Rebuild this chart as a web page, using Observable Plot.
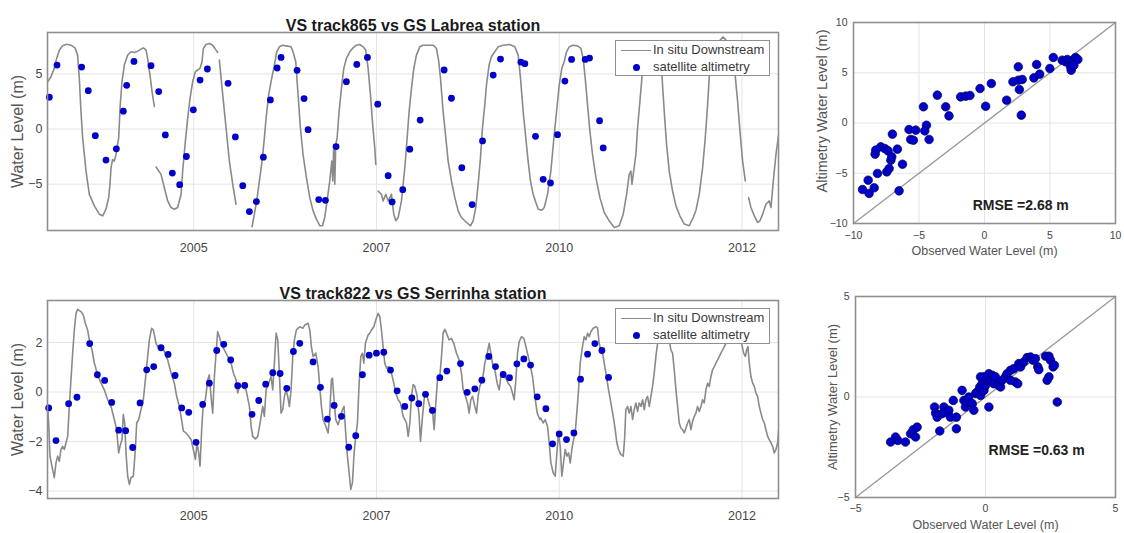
<!DOCTYPE html>
<html>
<head>
<meta charset="utf-8">
<script src="https://cdn.jsdelivr.net/npm/d3@7"></script>
<script src="https://cdn.jsdelivr.net/npm/@observablehq/plot@0.6"></script>
<style>
  html, body { margin: 0; padding: 0; background: #fff; }
  #wrap { position: relative; width: 1124px; height: 533px; overflow: hidden; background: #fff;
          font-family: "Liberation Sans", Arial, sans-serif; }
  .panel { position: absolute; }
  .legend { position: absolute; width: 155px; height: 36px; background: #fff; border: 1px solid #8f8f8f;
            box-sizing: border-box; font-size: 13px; color: #3a3a3a; }
  .legend .ln { position: absolute; left: 5px; top: 9px; width: 30px; height: 0; border-top: 1.5px solid #8c8c8c; }
  .legend .dt { position: absolute; left: 16.5px; top: 22.5px; width: 7px; height: 7px; border-radius: 50%; background: #0000c8; }
  .legend .t1, .legend .t2 { position: absolute; left: 37px; line-height: 15px; white-space: nowrap; }
  .legend .t1 { top: 1px; }
  .legend .t2 { top: 18px; }
</style>
</head>
<body>
<div id="wrap"></div>
<script>
// ---------------- data ----------------
const tsTickYears = [2005, 2007.5, 2010, 2012.5];
const tsTickLabels = ["2005", "2007", "2010", "2012"];
const labreaYTicks = [-5, 0, 5];
const serrinhaYTicks = [-4, -2, 0, 2];
const scatterTopTicks = [-10, -5, 0, 5, 10];
const scatterBottomTicks = [-5, 0, 5];

const titles = ["VS track865 vs GS Labrea station", "VS track822 vs GS Serrinha station"];
const legendLabels = ["In situ Downstream", "satellite altimetry"];
const rmseLabels = ["RMSE =2.68 m", "RMSE =0.63 m"];

// in situ water level [decimal year, m]; null = data gap
const labreaInSitu = [
[2003.002,4.29],[2003.047,4.74],[2003.093,5.50],[2003.125,6.40],[2003.162,7.15],[2003.207,7.54],[2003.262,7.69],[2003.321,7.60],[2003.376,7.36],[2003.412,6.70],[2003.435,4.59],[2003.458,1.59],[2003.481,-0.81],[2003.527,-3.81],[2003.572,-5.92],[2003.641,-6.97],[2003.709,-7.72],[2003.755,-7.87],[2003.800,-7.27],[2003.837,-6.22],[2003.855,-5.01],[2003.869,-3.51],[2003.891,-2.76],[2003.914,-2.91],[2003.937,-2.31],[2003.974,-0.81],[2003.992,1.89],[2004.019,4.29],[2004.051,5.80],[2004.097,6.70],[2004.142,7.00],[2004.188,6.94],[2004.234,7.06],[2004.279,7.24],[2004.311,7.36],[2004.348,7.15],[2004.370,6.40],[2004.402,4.89],[2004.430,3.39],[2004.462,2.04],
null,
[2004.485,-3.45],[2004.553,-4.11],[2004.599,-5.32],[2004.644,-6.52],[2004.690,-7.12],[2004.735,-7.27],[2004.781,-7.12],[2004.827,-5.92],[2004.849,-3.81],[2004.886,-1.11],[2004.918,0.99],[2004.950,2.79],[2004.986,4.29],[2005.023,5.20],[2005.055,5.35],[2005.087,5.50],[2005.114,6.10],[2005.132,7.30],[2005.169,7.66],[2005.214,7.75],[2005.260,7.60],[2005.306,7.15],[2005.328,6.94],
null,
[2005.351,6.25],[2005.397,3.09],[2005.443,0.09],[2005.488,-2.91],[2005.534,-5.01],[2005.579,-6.82],
null,
[2005.798,-8.86],[2005.830,-7.72],[2005.862,-6.52],[2005.899,-4.71],[2005.935,-2.91],[2005.967,-0.81],[2005.990,0.99],[2006.026,3.09],[2006.058,4.29],[2006.104,5.80],[2006.136,7.00],[2006.172,7.45],[2006.218,7.60],[2006.264,7.54],[2006.332,7.45],[2006.359,7.00],[2006.396,6.10],[2006.428,3.09],[2006.460,0.09],[2006.496,-2.31],[2006.542,-4.41],[2006.588,-6.22],[2006.633,-7.42],[2006.679,-8.17],[2006.725,-8.77],[2006.761,-8.77],[2006.793,-8.02],[2006.825,-6.52],[2006.861,-4.71],[2006.889,-2.91],[2006.902,-4.71],[2006.916,-1.41],[2006.930,-5.01],[2006.943,-1.41],[2006.962,-0.81],[2006.989,1.59],[2007.021,3.69],[2007.053,5.50],[2007.089,6.40],[2007.135,7.00],[2007.181,7.36],[2007.226,7.60],[2007.272,7.66],[2007.318,7.45],[2007.354,7.15],[2007.386,5.50],[2007.418,3.09],[2007.445,0.69],[2007.477,-1.71],[2007.491,-3.21],
null,
[2007.523,-5.62],[2007.568,-5.92],[2007.591,-6.52],[2007.628,-5.92],[2007.660,-6.52],[2007.705,-5.92],[2007.737,-7.72],[2007.765,-8.32],[2007.797,-8.02],[2007.842,-6.52],[2007.888,-3.51],[2007.920,-0.81],[2007.947,1.59],[2007.979,3.69],[2008.011,5.50],[2008.047,6.70],[2008.093,7.45],[2008.139,7.60],[2008.207,7.60],[2008.276,7.60],[2008.321,7.30],[2008.353,6.10],[2008.376,4.59],[2008.412,1.59],[2008.449,-0.81],[2008.481,-2.91],[2008.526,-4.71],[2008.572,-6.22],[2008.618,-7.42],[2008.663,-8.02],[2008.732,-8.47],[2008.786,-8.77],[2008.823,-8.32],[2008.859,-7.12],[2008.891,-5.01],[2008.923,-2.61],[2008.950,0.09],[2008.982,2.19],[2009.005,3.99],[2009.041,5.80],[2009.073,6.55],[2009.118,7.00],[2009.164,7.45],[2009.233,7.60],[2009.324,7.66],[2009.393,7.45],[2009.439,6.70],[2009.471,4.59],[2009.507,1.59],[2009.543,-0.81],[2009.575,-2.91],[2009.607,-4.71],[2009.644,-5.92],[2009.681,-6.67],[2009.713,-7.27],[2009.763,-7.36],[2009.795,-7.12],[2009.840,-5.92],[2009.886,-3.81],[2009.932,-0.51],[2009.964,1.59],[2010.000,3.99],[2010.036,5.50],[2010.068,6.10],[2010.100,7.00],[2010.137,7.45],[2010.182,7.60],[2010.251,7.54],[2010.297,7.30],[2010.328,6.40],[2010.356,4.59],[2010.388,2.19],[2010.420,-0.21],[2010.456,-2.31],[2010.502,-4.41],[2010.557,-6.22],[2010.616,-7.57],[2010.684,-8.32],[2010.753,-8.92],[2010.821,-8.77],[2010.876,-7.72],[2010.922,-5.92],[2010.958,-4.11],[2010.981,-3.81],[2010.995,-5.01],[2011.013,-4.11],[2011.049,-2.31],[2011.072,0.09],[2011.104,2.49],[2011.131,4.59],[2011.150,6.40],[2011.195,7.45],[2011.277,7.66],[2011.359,7.30],[2011.405,4.89],[2011.437,1.59],[2011.469,-1.41],[2011.505,-3.81],[2011.551,-5.62],[2011.597,-6.97],[2011.651,-7.87],[2011.711,-8.62],[2011.779,-8.77],[2011.834,-8.02],[2011.871,-7.36],[2011.916,-5.92],[2011.962,-3.51],[2011.998,-0.81],[2012.030,2.19],[2012.053,4.74],[2012.098,6.70],[2012.181,7.90],[2012.240,8.35],[2012.304,7.90],[2012.372,6.40],[2012.409,4.74],[2012.441,2.49],[2012.473,-0.21],[2012.509,-2.91],[2012.546,-4.71],
null,
[2012.591,-6.22],[2012.623,-7.12],[2012.669,-7.87],[2012.714,-8.47],[2012.746,-8.32],[2012.783,-7.72],[2012.828,-6.82],[2012.874,-6.52],[2012.897,-7.12],[2012.929,-4.71],[2012.965,-2.31],[2013.002,-0.51]
];

const labreaAltimetry = [
[2003.025,2.88],[2003.130,5.80],[2003.467,5.62],[2003.558,3.48],[2003.654,-0.60],[2003.800,-2.82],[2003.942,-1.80],[2004.037,1.62],[2004.083,3.96],[2004.183,6.13],[2004.416,5.74],[2004.521,3.39],[2004.612,-0.54],[2004.708,-3.99],[2004.808,-5.05],[2004.900,-2.49],[2004.995,1.74],[2005.087,4.44],[2005.187,5.44],[2005.470,4.14],[2005.570,-0.72],[2005.671,-5.14],[2005.762,-7.48],[2005.858,-6.58],[2005.953,-2.55],[2006.049,2.64],[2006.141,5.53],[2006.195,6.49],[2006.414,5.32],[2006.510,2.76],[2006.565,-0.06],[2006.711,-6.40],[2006.802,-6.46],[2006.948,-1.59],[2007.089,4.29],[2007.231,5.86],[2007.377,6.49],[2007.518,2.25],[2007.660,-4.23],[2007.714,-6.61],[2007.860,-5.50],[2007.956,-1.83],[2008.098,0.81],[2008.426,5.35],[2008.526,2.79],[2008.668,-3.51],[2008.809,-6.85],[2008.951,-1.08],[2009.097,4.89],[2009.197,6.34],[2009.475,6.07],[2009.530,5.92],[2009.676,-0.66],[2009.781,-4.56],[2009.881,-4.89],[2009.977,-0.51],[2010.078,4.35],[2010.169,6.31],[2010.356,6.31],[2010.415,6.43],[2010.552,0.75],[2010.602,-1.71]
];

const serrinhaInSitu = [
[2003.002,-0.58],[2003.016,-1.25],[2003.034,-2.59],[2003.061,-2.99],[2003.093,-3.46],[2003.116,-2.86],[2003.139,-2.59],[2003.162,-2.79],[2003.184,-2.32],[2003.207,-2.19],[2003.230,-2.32],[2003.253,-2.05],[2003.276,-1.79],[2003.298,-0.58],[2003.321,0.50],[2003.344,1.57],[2003.367,2.51],[2003.390,3.18],[2003.412,3.34],[2003.458,3.25],[2003.490,3.11],[2003.517,2.78],[2003.549,2.51],[2003.572,2.11],[2003.609,1.70],[2003.641,1.17],[2003.686,0.70],[2003.732,0.36],[2003.777,0.09],[2003.823,-0.31],[2003.869,-0.58],[2003.914,-1.11],[2003.946,-1.52],[2003.974,-2.46],[2003.992,-2.19],[2004.019,-1.92],[2004.037,-0.91],[2004.056,-1.25],[2004.074,-2.46],[2004.097,-3.40],[2004.120,-3.73],[2004.142,-3.46],[2004.174,-3.40],[2004.202,-2.32],[2004.220,-1.25],[2004.247,-1.11],[2004.279,-0.71],[2004.311,-0.31],[2004.339,0.50],[2004.361,1.17],[2004.393,2.11],[2004.425,2.58],[2004.448,2.51],[2004.485,1.97],[2004.521,1.77],[2004.553,1.84],[2004.599,1.64],[2004.644,1.30],[2004.690,0.77],[2004.735,0.36],[2004.767,-0.17],[2004.804,-0.58],[2004.827,-0.98],[2004.859,-1.58],[2004.895,-1.65],[2004.932,-1.79],[2004.964,-1.92],[2004.995,-2.32],[2005.023,-2.72],[2005.046,-2.05],[2005.068,-2.46],[2005.087,-2.99],[2005.109,-1.52],[2005.132,-0.44],[2005.160,-0.31],[2005.192,0.50],[2005.214,0.70],[2005.237,-0.17],[2005.260,-0.85],[2005.283,0.63],[2005.306,1.57],[2005.328,2.44],[2005.351,2.24],[2005.374,1.97],[2005.420,1.70],[2005.465,1.44],[2005.511,1.17],[2005.543,0.77],[2005.579,0.50],[2005.602,-0.04],[2005.625,0.23],[2005.671,0.23],[2005.716,0.09],[2005.762,-0.58],[2005.785,-1.38],[2005.807,-1.79],[2005.844,-1.89],[2005.876,-1.79],[2005.908,-1.25],[2005.944,-0.58],[2005.967,-0.98],[2005.990,0.09],[2006.026,0.36],[2006.058,0.63],[2006.081,0.09],[2006.104,1.17],[2006.127,2.38],[2006.150,2.11],[2006.172,0.77],[2006.195,-0.85],[2006.218,-0.71],[2006.241,-0.17],[2006.264,0.09],[2006.286,-0.17],[2006.309,-0.58],[2006.332,0.09],[2006.355,1.44],[2006.378,2.11],[2006.405,2.51],[2006.451,2.64],[2006.496,2.58],[2006.519,2.71],[2006.565,2.78],[2006.588,2.51],[2006.610,1.84],[2006.633,1.44],[2006.670,1.57],[2006.702,1.03],[2006.724,0.23],[2006.747,-0.58],[2006.770,-1.11],[2006.807,-1.38],[2006.839,-1.65],[2006.861,-0.85],[2006.884,0.50],[2006.898,0.56],[2006.916,-0.17],[2006.943,-1.11],[2006.975,-1.32],[2006.998,-1.11],[2007.035,-0.71],[2007.057,-0.58],[2007.076,-1.52],[2007.099,-2.46],[2007.126,-3.26],[2007.149,-3.93],[2007.172,-3.66],[2007.194,-2.46],[2007.217,-1.79],[2007.240,-1.25],[2007.263,0.36],[2007.286,1.44],[2007.308,1.57],[2007.327,1.17],[2007.349,1.97],[2007.386,2.31],[2007.409,2.38],[2007.432,2.51],[2007.464,2.64],[2007.491,2.91],[2007.523,3.18],[2007.546,3.05],[2007.568,2.51],[2007.591,1.84],[2007.614,1.17],[2007.637,0.97],[2007.673,1.03],[2007.705,0.77],[2007.737,0.36],[2007.765,-0.04],[2007.797,-0.31],[2007.828,-0.44],[2007.865,-0.98],[2007.888,-1.11],[2007.911,-1.25],[2007.934,-1.79],[2007.957,-1.25],[2007.979,-0.17],[2008.002,0.30],[2008.025,0.23],[2008.057,-0.17],[2008.084,-0.98],[2008.102,-1.99],[2008.130,-0.98],[2008.161,-0.04],[2008.193,-0.17],[2008.230,-0.58],[2008.266,-0.71],[2008.289,-1.52],[2008.312,-0.44],[2008.335,0.50],[2008.367,0.63],[2008.390,1.44],[2008.412,2.38],[2008.435,2.54],[2008.458,2.38],[2008.494,2.11],[2008.526,2.17],[2008.558,1.97],[2008.595,1.57],[2008.631,1.30],[2008.663,0.77],[2008.686,0.09],[2008.718,-0.17],[2008.745,-0.44],[2008.768,-0.85],[2008.791,-0.31],[2008.814,-0.17],[2008.846,-0.58],[2008.869,-0.85],[2008.891,-0.17],[2008.914,0.23],[2008.951,0.50],[2008.983,1.17],[2009.015,1.57],[2009.042,1.97],[2009.065,1.57],[2009.087,1.17],[2009.120,0.90],[2009.151,0.36],[2009.179,0.09],[2009.202,0.63],[2009.233,0.63],[2009.270,0.56],[2009.302,0.36],[2009.334,0.23],[2009.361,-0.04],[2009.384,-0.31],[2009.407,0.50],[2009.430,1.57],[2009.453,2.04],[2009.485,2.24],[2009.516,2.17],[2009.544,1.84],[2009.576,1.44],[2009.598,1.17],[2009.635,0.63],[2009.667,-0.17],[2009.699,-0.85],[2009.735,-1.11],[2009.749,-1.05],[2009.781,-1.25],[2009.808,-1.11],[2009.840,-1.38],[2009.863,-2.05],[2009.886,-2.86],[2009.918,-3.26],[2009.945,-3.40],[2009.968,-2.46],[2009.991,-1.65],[2010.014,-2.19],[2010.036,-3.40],[2010.059,-2.86],[2010.082,-2.32],[2010.105,-2.59],[2010.128,-2.46],[2010.151,-2.86],[2010.173,-2.32],[2010.196,-1.92],[2010.219,-1.65],[2010.237,-0.98],[2010.265,0.09],[2010.287,1.17],[2010.319,1.84],[2010.342,2.24],[2010.365,2.11],[2010.388,2.38],[2010.411,2.24],[2010.433,2.44],[2010.465,2.58],[2010.502,2.64],[2010.525,2.58],[2010.547,1.97],[2010.570,1.70],[2010.593,1.57],[2010.616,1.17],[2010.639,0.77],[2010.675,0.09],[2010.707,-0.44],[2010.739,-0.98],[2010.766,-1.52],[2010.789,-2.05],[2010.812,-2.32],[2010.844,-2.52],[2010.876,-2.59],[2010.894,-1.92],[2010.912,-0.71],[2010.935,-0.58],[2010.958,-0.85],[2010.981,-0.58],[2011.004,-1.11],[2011.026,-0.71],[2011.049,-0.44],[2011.072,-0.78],[2011.095,-0.44],[2011.118,-0.58],[2011.141,-0.31],[2011.163,-0.71],[2011.186,-0.31],[2011.209,-0.17],[2011.232,-0.58],[2011.255,-0.17],[2011.277,0.23],[2011.300,0.77],[2011.323,1.44],[2011.346,1.97],[2011.378,2.51],[2011.414,2.78],[2011.460,2.64],[2011.505,2.11],[2011.528,1.70],[2011.551,1.57],[2011.574,0.90],[2011.597,0.09],[2011.620,-0.58],[2011.642,-1.25],[2011.665,-1.45],[2011.688,-1.52],[2011.711,-1.65],[2011.734,-1.45],[2011.757,-1.25],[2011.779,-1.11],[2011.802,-1.52],[2011.825,-1.18],[2011.848,-0.98],[2011.870,-0.85],[2011.893,-0.58],[2011.916,-0.78],[2011.939,-0.58],[2011.962,-0.31],[2011.984,-0.44],[2012.007,0.09],[2012.030,0.36],[2012.053,0.23],[2012.076,0.63],[2012.098,0.90],[2012.121,1.03],[2012.144,1.17],[2012.167,1.30],[2012.190,1.44],[2012.213,1.57],[2012.235,1.70],[2012.258,1.84],[2012.281,1.97],[2012.349,2.38],[2012.418,2.51],[2012.473,2.24],[2012.500,1.91],[2012.523,1.57],[2012.546,1.44],[2012.564,1.70],[2012.582,1.84],[2012.600,1.17],[2012.623,0.63],[2012.646,0.36],[2012.669,0.23],[2012.692,-0.04],[2012.714,-0.17],[2012.737,-0.58],[2012.760,-0.85],[2012.783,-1.11],[2012.806,-1.25],[2012.828,-1.52],[2012.851,-1.79],[2012.874,-1.92],[2012.897,-2.05],[2012.920,-2.19],[2012.942,-2.46],[2012.965,-2.32],[2012.988,-2.05],[2013.002,-1.52]
];

const serrinhaAltimetry = [
[2003.016,-0.64],[2003.116,-1.96],[2003.289,-0.47],[2003.403,-0.21],[2003.577,1.96],[2003.682,0.70],[2003.782,0.47],[2003.878,-0.42],[2003.974,-1.54],[2004.069,-1.56],[2004.165,-2.24],[2004.266,-0.44],[2004.357,0.90],[2004.453,1.03],[2004.553,1.79],[2004.649,1.52],[2004.745,0.67],[2004.836,-0.64],[2004.932,-0.82],[2005.032,-2.03],[2005.123,-0.50],[2005.214,0.36],[2005.315,1.68],[2005.411,1.93],[2005.506,1.30],[2005.602,0.26],[2005.698,0.27],[2005.798,-0.90],[2005.890,-0.34],[2005.985,0.32],[2006.081,0.78],[2006.182,0.75],[2006.273,0.15],[2006.364,1.64],[2006.451,1.97],[2006.633,1.22],[2006.734,0.19],[2006.829,-1.09],[2006.921,-0.54],[2007.021,-0.98],[2007.121,-2.23],[2007.217,-1.76],[2007.308,0.70],[2007.400,1.49],[2007.500,1.57],[2007.600,1.61],[2007.692,0.89],[2007.783,0.05],[2007.888,-0.58],[2007.984,-0.24],[2008.079,-0.47],[2008.171,-0.09],[2008.266,-0.74],[2008.367,0.58],[2008.463,0.85],[2008.650,1.15],[2008.741,-0.01],[2008.846,0.13],[2008.942,0.48],[2009.037,1.44],[2009.129,1.03],[2009.234,0.71],[2009.320,0.58],[2009.421,1.14],[2009.516,1.34],[2009.608,1.09],[2009.699,-0.19],[2009.818,-0.67],[2009.909,-2.09],[2010.000,-1.69],[2010.100,-1.92],[2010.201,-1.65],[2010.292,0.52],[2010.388,1.53],[2010.488,1.96],[2010.584,1.68],[2010.675,0.59]
];

// scatter: [observed, altimetry] (m)
const labreaScatter = [
[-9.31,-6.62],[-8.81,-7.01],[-8.88,-5.69],[-8.42,-6.45],[-8.35,-3.10],[-8.30,-2.70],[-8.17,-5.02],[-7.92,-2.37],[-7.61,-2.54],[-7.36,-2.77],[-7.46,-4.86],[-7.28,-4.53],[-7.15,-3.70],[-7.03,-1.11],[-7.08,-3.37],[-6.65,-2.60],[-6.26,-4.10],[-6.52,-6.75],[-5.76,-0.65],[-5.63,-1.64],[-5.43,-1.71],[-5.25,-0.71],[-4.66,1.61],[-4.43,-0.22],[-4.56,-0.78],[-4.23,-1.64],[-3.60,2.77],[-2.96,1.61],[-2.71,0.71],[-1.82,2.60],[-1.44,2.67],[-1.11,2.74],[-0.34,3.43],[0.09,1.67],[0.52,3.93],[1.69,2.27],[2.17,4.10],[2.58,5.59],[2.58,4.26],[2.66,3.33],[2.81,0.78],[2.88,4.33],[3.77,4.49],[3.98,5.82],[4.21,4.86],[4.99,5.42],[5.25,6.52],[5.93,6.25],[6.19,6.09],[6.32,6.32],[6.52,5.92],[6.62,5.26],[6.77,6.25],[6.95,6.52],[7.13,6.32],[6.57,5.59],[6.82,5.75]
];
const serrinhaScatter = [
[-3.65,-2.24],[-3.46,-1.99],[-3.37,-2.16],[-3.08,-2.24],[-2.88,-1.83],[-2.78,-1.63],[-2.69,-1.99],[-2.63,-1.50],[-1.96,-0.50],[-1.92,-0.80],[-1.86,-1.00],[-1.76,-1.69],[-1.67,-0.83],[-1.60,-0.50],[-1.54,-0.75],[-1.41,-0.66],[-1.35,-1.00],[-1.24,-0.17],[-1.12,-1.58],[-1.12,-1.00],[-0.90,0.33],[-0.83,-0.17],[-0.77,-0.50],[-0.71,-0.25],[-0.64,0.00],[-0.51,-0.33],[-0.45,-0.66],[-0.38,0.17],[-0.32,0.25],[-0.22,0.50],[-0.19,0.08],[-0.13,0.66],[-0.06,0.33],[0.00,0.58],[0.06,0.83],[0.13,-0.50],[0.13,1.16],[0.19,0.83],[0.26,1.08],[0.32,0.66],[0.38,1.00],[0.51,0.58],[0.58,0.50],[0.64,0.83],[0.77,1.00],[0.83,1.16],[0.96,1.33],[1.09,1.41],[1.15,0.75],[1.24,0.66],[0.96,0.83],[1.28,1.66],[1.35,1.50],[1.47,1.74],[1.60,1.96],[1.73,1.99],[1.83,1.83],[1.92,1.91],[2.01,1.50],[2.05,1.36],[2.31,2.03],[2.44,2.03],[2.50,1.83],[2.60,1.50],[2.37,0.83],[2.44,1.00],[2.65,1.58],[2.76,-0.25],[-0.19,1.00],[-0.06,1.00]
];

// ---------------- drawing ----------------
const FONT = '"Liberation Sans", Arial, Helvetica, sans-serif';
const LINE_GRAY = "#8a8a8a";
const FRAME_GRAY = "#8f8f8f";
const GRID = "#e4e4e4";
const DOT_BLUE = "#0000c8";
const TICK_TEXT = "#454545";
const LABEL_TEXT = "#555555";

const toRows = arr => arr.map(p => p ? {t: p[0], v: p[1]} : {t: NaN, v: NaN});
const toPts = arr => arr.map(p => ({t: p[0], v: p[1]}));
const tsFmt = d => tsTickLabels[tsTickYears.indexOf(d)];

function seriesPlot({title, inSitu, alt, yDomain, yTicks}) {
  return Plot.plot({
    width: 800, height: 262,
    marginLeft: 47, marginRight: 22, marginTop: 32, marginBottom: 32,
    style: {fontFamily: FONT, color: TICK_TEXT, background: "transparent", overflow: "visible"},
    x: {type: "linear", domain: [2003, 2013], axis: null},
    y: {type: "linear", domain: yDomain, axis: null},
    marks: [
      Plot.gridX(tsTickYears, {stroke: GRID, strokeOpacity: 1, strokeWidth: 1}),
      Plot.gridY(yTicks, {stroke: GRID, strokeOpacity: 1, strokeWidth: 1}),
      Plot.line(toRows(inSitu), {x: "t", y: "v", stroke: LINE_GRAY, strokeWidth: 1.6, clip: true}),
      Plot.dot(toPts(alt), {x: "t", y: "v", r: 3.4, fill: DOT_BLUE, stroke: "none"}),
      Plot.frame({stroke: FRAME_GRAY, strokeWidth: 1.6}),
      Plot.axisX(tsTickYears, {tickFormat: tsFmt, tickSize: 0, tickPadding: 13, fontSize: 12.5, label: null, fill: TICK_TEXT}),
      Plot.axisY(yTicks, {tickSize: 0, tickPadding: 5, fontSize: 12.5, label: null, fill: TICK_TEXT}),
      Plot.text([title], {text: d => d, frameAnchor: "top", textAnchor: "middle", dy: -13, fontSize: 16, fontWeight: "bold", fill: "#1a1a1a"}),
      Plot.text(["Water Level (m)"], {text: d => d, frameAnchor: "left", textAnchor: "middle", rotate: -90, dx: -30, fontSize: 16, fill: LABEL_TEXT})
    ]
  });
}

function scatterPlot({data, domain, ticks, rmse, rmsePos, m, h, yLabelSize, yLabelDx, yLabelDy, xTickPad}) {
  const diag = domain.map(v => ({a: v, b: v}));
  return Plot.plot({
    width: 344, height: h,
    marginLeft: m[0], marginRight: m[1], marginTop: m[2], marginBottom: m[3],
    style: {fontFamily: FONT, color: TICK_TEXT, background: "transparent", overflow: "visible"},
    x: {type: "linear", domain, axis: null},
    y: {type: "linear", domain, axis: null},
    marks: [
      Plot.gridX(ticks, {stroke: GRID, strokeOpacity: 1}),
      Plot.gridY(ticks, {stroke: GRID, strokeOpacity: 1}),
      Plot.line(diag, {x: "a", y: "b", stroke: "#9a9a9a", strokeWidth: 1.4}),
      Plot.dot(data, {x: d => d[0], y: d => d[1], r: 4.3, fill: DOT_BLUE, stroke: "#00005a", strokeWidth: 0.7}),
      Plot.frame({stroke: FRAME_GRAY, strokeWidth: 1.6}),
      Plot.axisX(ticks, {tickSize: 0, tickPadding: xTickPad, fontSize: 10.5, label: null, fill: TICK_TEXT}),
      Plot.axisY(ticks, {tickSize: 0, tickPadding: 6, fontSize: 10.5, label: null, fill: TICK_TEXT}),
      Plot.text(["Observed Water Level (m)"], {text: d => d, frameAnchor: "bottom", textAnchor: "middle", dy: 31, fontSize: 12.5, fill: LABEL_TEXT}),
      Plot.text(["Altimetry Water Level (m)"], {text: d => d, frameAnchor: "left", textAnchor: "middle", rotate: -90, dx: yLabelDx, dy: yLabelDy, fontSize: yLabelSize, fill: LABEL_TEXT}),
      Plot.text([rmse], {text: d => d, x: rmsePos[0], y: rmsePos[1], textAnchor: "start", fontSize: 14, fontWeight: "bold", fill: "#222"})
    ]
  });
}

function place(node, left, top) {
  const d = document.createElement("div");
  d.className = "panel";
  d.style.left = left + "px";
  d.style.top = top + "px";
  d.appendChild(node);
  document.getElementById("wrap").appendChild(d);
}
function legend(left, top) {
  const d = document.createElement("div");
  d.className = "legend";
  d.style.left = left + "px";
  d.style.top = top + "px";
  d.innerHTML = `<div class="ln"></div><div class="t1">${legendLabels[0]}</div><div class="dt"></div><div class="t2">${legendLabels[1]}</div>`;
  document.getElementById("wrap").appendChild(d);
}

place(seriesPlot({title: titles[0], inSitu: labreaInSitu, alt: labreaAltimetry, yDomain: [-9.2, 8.75], yTicks: labreaYTicks}), 0, 0);
place(seriesPlot({title: titles[1], inSitu: serrinhaInSitu, alt: serrinhaAltimetry, yDomain: [-4.3, 3.7], yTicks: serrinhaYTicks}), 0, 268);
legend(615, 40);
legend(615, 308);

place(scatterPlot({data: labreaScatter, domain: [-10, 10], ticks: scatterTopTicks, rmse: rmseLabels[0], rmsePos: [-0.9, -8.2],
                   m: [73, 9, 22, 39], h: 262, yLabelSize: 14.5, yLabelDx: -31, yLabelDy: -12, xTickPad: 8.5}), 780, 0);
place(scatterPlot({data: serrinhaScatter, domain: [-5, 5], ticks: scatterBottomTicks, rmse: rmseLabels[1], rmsePos: [0.12, -2.67],
                   m: [75, 9, 26, 36], h: 263, yLabelSize: 13, yLabelDx: -23, yLabelDy: 0, xTickPad: 7.5}), 780, 270);
</script>
</body>
</html>
